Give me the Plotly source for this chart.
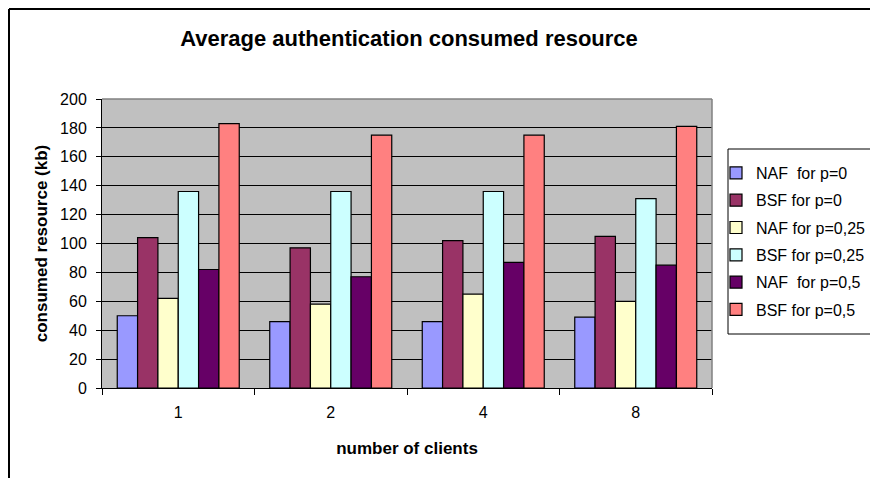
import plotly.graph_objects as go

categories = ["1", "2", "4", "8"]
series_names = ["NAF  for p=0", "BSF for p=0", "NAF for p=0,25", "BSF for p=0,25", "NAF  for p=0,5", "BSF for p=0,5"]
naf_p0 = [50, 46, 46, 49]
bsf_p0 = [104, 97, 102, 105]
naf_p025 = [62, 58, 65, 60]
bsf_p025 = [136, 136, 136, 131]
naf_p05 = [82, 77, 87, 85]
bsf_p05 = [183, 175, 175, 181]
y_ticks = [0, 20, 40, 60, 80, 100, 120, 140, 160, 180, 200]

series_values = [naf_p0, bsf_p0, naf_p025, bsf_p025, naf_p05, bsf_p05]
colors = ["#9999FF", "#993366", "#FFFFCC", "#CCFFFF", "#660066", "#FF8080"]

FONT = "Liberation Sans, Arial, sans-serif"

fig = go.Figure()
for i, (name, vals, col) in enumerate(zip(series_names, series_values, colors)):
    fig.add_trace(go.Bar(
        x=categories, y=vals, name=name, legendgroup="g%d" % i,
        marker=dict(color=col, line=dict(color="#000000", width=1.2)),
    ))

# body margin is removed by post_script, so page coords == figure coords
W, H = 870, 478
L, R, T, B = 102, 712, 99, 388
pw, ph = R - L, B - T

def px_x(x):  # page x -> paper
    return (x - L) / pw

def px_y(y):  # page y -> paper
    return (B - y) / ph

fig.update_layout(
    width=W, height=H,
    margin=dict(l=L, r=W - R, t=T, b=H - B, autoexpand=False),
    paper_bgcolor="white",
    plot_bgcolor="#C0C0C0",
    barmode="group",
    bargap=0.2,
    bargroupgap=0,
    font=dict(family=FONT, color="black"),
    title=dict(
        text="<b>Average authentication consumed resource</b>",
        font=dict(size=22, family=FONT, color="black"),
        x=409 / W, xanchor="center",
        y=1 - 38 / H, yanchor="middle",
    ),
    xaxis=dict(
        type="category",
        showgrid=False,
        showline=True, linecolor="black", linewidth=1,
        ticks="outside", tickson="boundaries", ticklen=6, tickcolor="black",
        ticklabelstandoff=10,
        tickfont=dict(size=16, family=FONT),
        title=dict(text="<b>number of clients</b>", font=dict(size=17, family=FONT), standoff=21),
        mirror=False,
    ),
    yaxis=dict(
        range=[0, 200],
        tickvals=y_ticks,
        showgrid=True, gridcolor="black", gridwidth=1,
        showline=True, linecolor="black", linewidth=1,
        ticks="outside", ticklen=5, tickcolor="black",
        ticklabelstandoff=6,
        tickfont=dict(size=16, family=FONT),
        title=dict(text="<b>consumed resource (kb)</b>", font=dict(size=17, family=FONT), standoff=8),
        zeroline=False,
    ),
    legend=dict(
        x=px_x(716), xanchor="left",
        y=px_y(156), yanchor="top",
        bgcolor="rgba(0,0,0,0)",
        borderwidth=0,
        font=dict(size=16, family=FONT, color="black"),
        tracegroupgap=3.5,
        itemwidth=30,
    ),
    showlegend=True,
)

def hline(x0, x1, y, color="black", width=1):
    fig.add_shape(type="line", xref="paper", yref="paper",
                  x0=px_x(x0), x1=px_x(x1), y0=px_y(y), y1=px_y(y),
                  line=dict(color=color, width=width), layer="above")

def vline(x, y0, y1, color="black", width=1):
    fig.add_shape(type="line", xref="paper", yref="paper",
                  x0=px_x(x), x1=px_x(x), y0=px_y(y0), y1=px_y(y1),
                  line=dict(color=color, width=width), layer="above")

# Plot-area frame (top/right in gray)
hline(L, R, T, color="#808080", width=1.5)
vline(R, T, B, color="#808080", width=1.5)
# Legend frame (open to the right, cut by the picture edge)
hline(728, 900, 149)
hline(728, 900, 334)
vline(728, 149, 334)
# Outer chart border (cut by the picture edges)
hline(9, 900, 9, width=2)
vline(9, 9, 520, width=2)

fig.write_html(
    "out.html",
    config={"displayModeBar": False},
    post_script="document.body.style.margin='0';document.body.style.overflow='hidden';",
)
